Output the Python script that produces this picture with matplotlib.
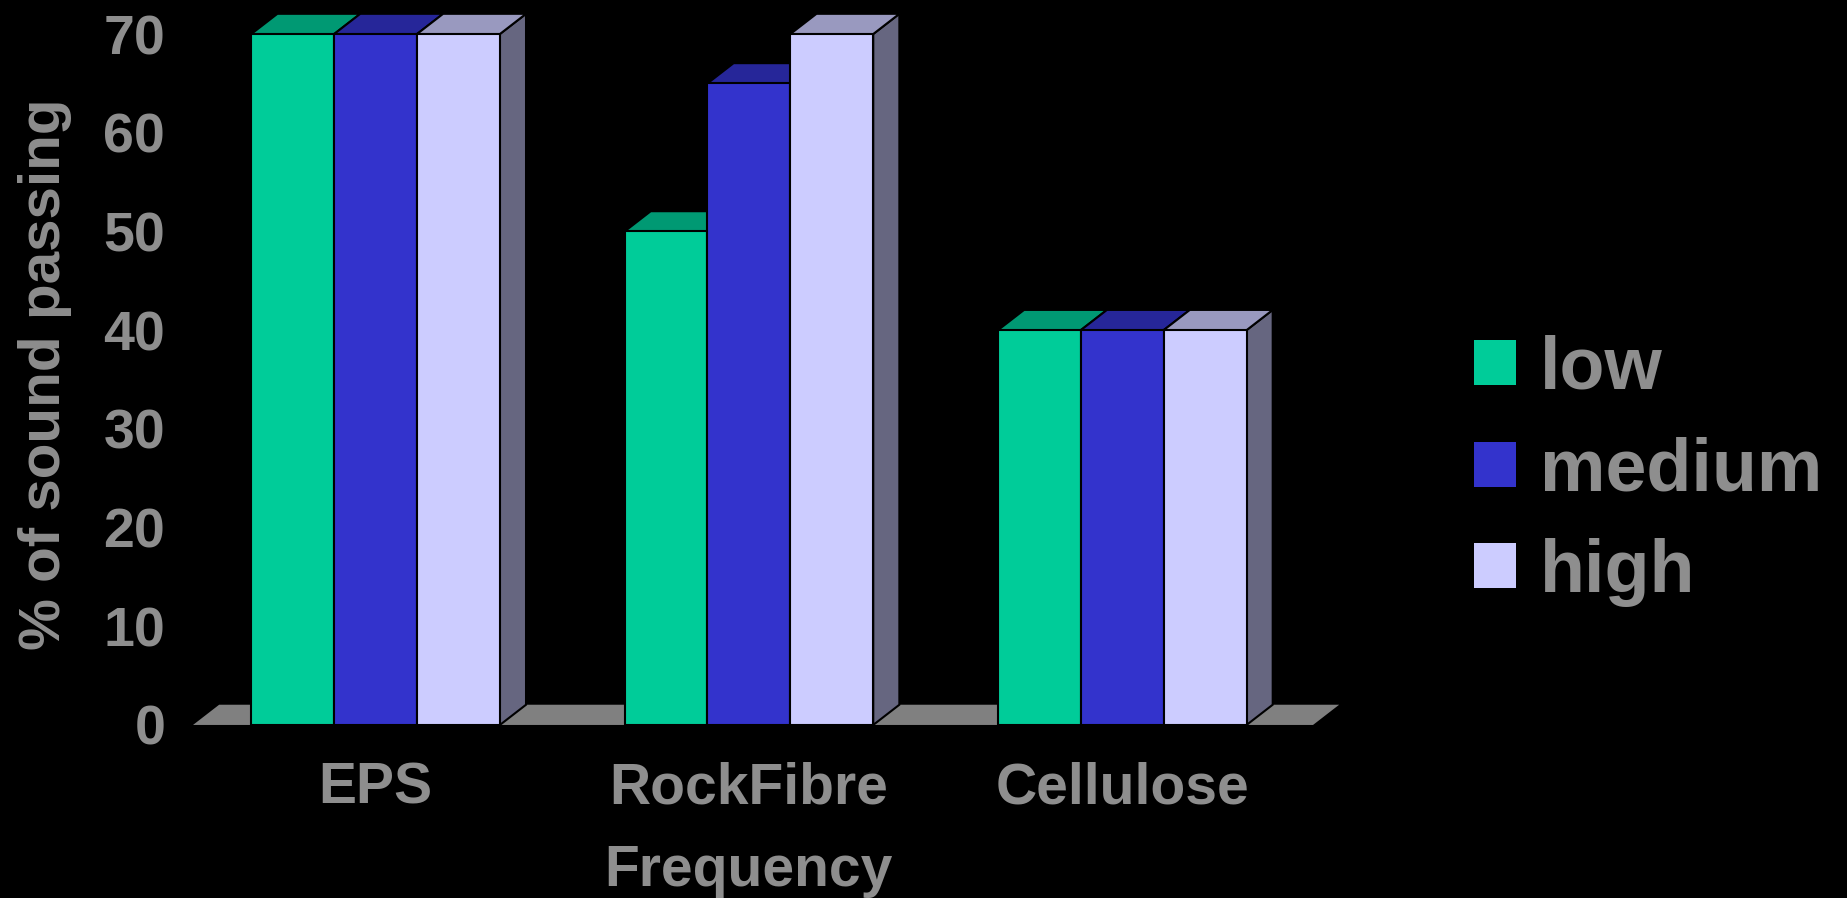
import numpy as np
import matplotlib.pyplot as plt
from matplotlib.patches import Polygon, Patch

categories = ['EPS', 'RockFibre', 'Cellulose']
series = ['low', 'medium', 'high']
low = [70, 50, 40]
medium = [70, 65, 40]
high = [70, 70, 40]
yticks = [0, 10, 20, 30, 40, 50, 60, 70]

front = ['#00CC99', '#3333CC', '#CCCCFF']
top = ['#009973', '#262699', '#9999BF']
side = ['#006650', '#1A1A66', '#666680']
grey = '#8E8E8E'

plt.rcParams['font.family'] = ['Liberation Sans', 'DejaVu Sans']
plt.rcParams['font.weight'] = 'bold'

fig = plt.figure(figsize=(18.47, 8.98), dpi=100, facecolor='black')
ax = fig.add_axes([0.1045, 0.1927, 0.6064, 0.7694])
ax.set_facecolor('black')
ax.set_xlim(-0.5, 2.5)
ax.set_ylim(0, 70)

w = 0.222      # bar width in category units
dx, dy = 0.07, 2.05   # depth offset (x units, value units)

# grey floor under the bars
ax.add_patch(Polygon([(-0.5, 0), (2.5, 0), (2.5 + dx, dy), (-0.5 + dx, dy)],
                     fc='#808080', ec='none', zorder=1, clip_on=False))

x = np.arange(len(categories))
for j, vals in enumerate([low, medium, high]):
    left = x - 1.5 * w + j * w - 0.011
    bars = ax.bar(left, vals, width=w, align='edge', color=front[j],
                  edgecolor='black', linewidth=1.5, zorder=3 + j,
                  label=series[j])
    for b in bars:
        b.set_clip_on(False)
        x0, h = b.get_x(), b.get_height()
        x1 = x0 + w
        ax.add_patch(Polygon([(x1, 0), (x1 + dx, dy), (x1 + dx, h + dy), (x1, h)],
                             fc=side[j], ec='black', lw=1.5, zorder=2.5 + j,
                             clip_on=False))
        ax.add_patch(Polygon([(x0, h), (x1, h), (x1 + dx, h + dy), (x0 + dx, h + dy)],
                             fc=top[j], ec='black', lw=1.5, zorder=2.5 + j,
                             clip_on=False))

for s in ax.spines.values():
    s.set_visible(False)

ax.set_yticks(yticks)
ax.set_xticks(x - 0.011, categories)
ax.tick_params(axis='y', length=0, pad=20, labelsize=40, labelcolor=grey)
ax.tick_params(axis='x', length=0, pad=26, labelsize=41, labelcolor=grey)

ax.set_ylabel('% of sound passing', fontsize=42, color=grey, fontweight='bold')
ax.yaxis.set_label_coords(-0.108, 0.508)
ax.set_xlabel('Frequency', fontsize=41, color=grey, fontweight='bold')
ax.xaxis.set_label_coords(0.4955, -0.172)

handles = [Patch(facecolor=c, edgecolor='none') for c in front]
ax.legend(handles, series, loc='center left', bbox_to_anchor=(1.1438, 0.368),
          frameon=False, labelcolor=grey, borderpad=0,
          borderaxespad=0, handlelength=0.57, handleheight=0.57,
          handletextpad=0.33, labelspacing=0.44,
          prop={'weight': 'bold', 'size': 53})

fig.savefig('out.png', dpi=100, facecolor='black')
